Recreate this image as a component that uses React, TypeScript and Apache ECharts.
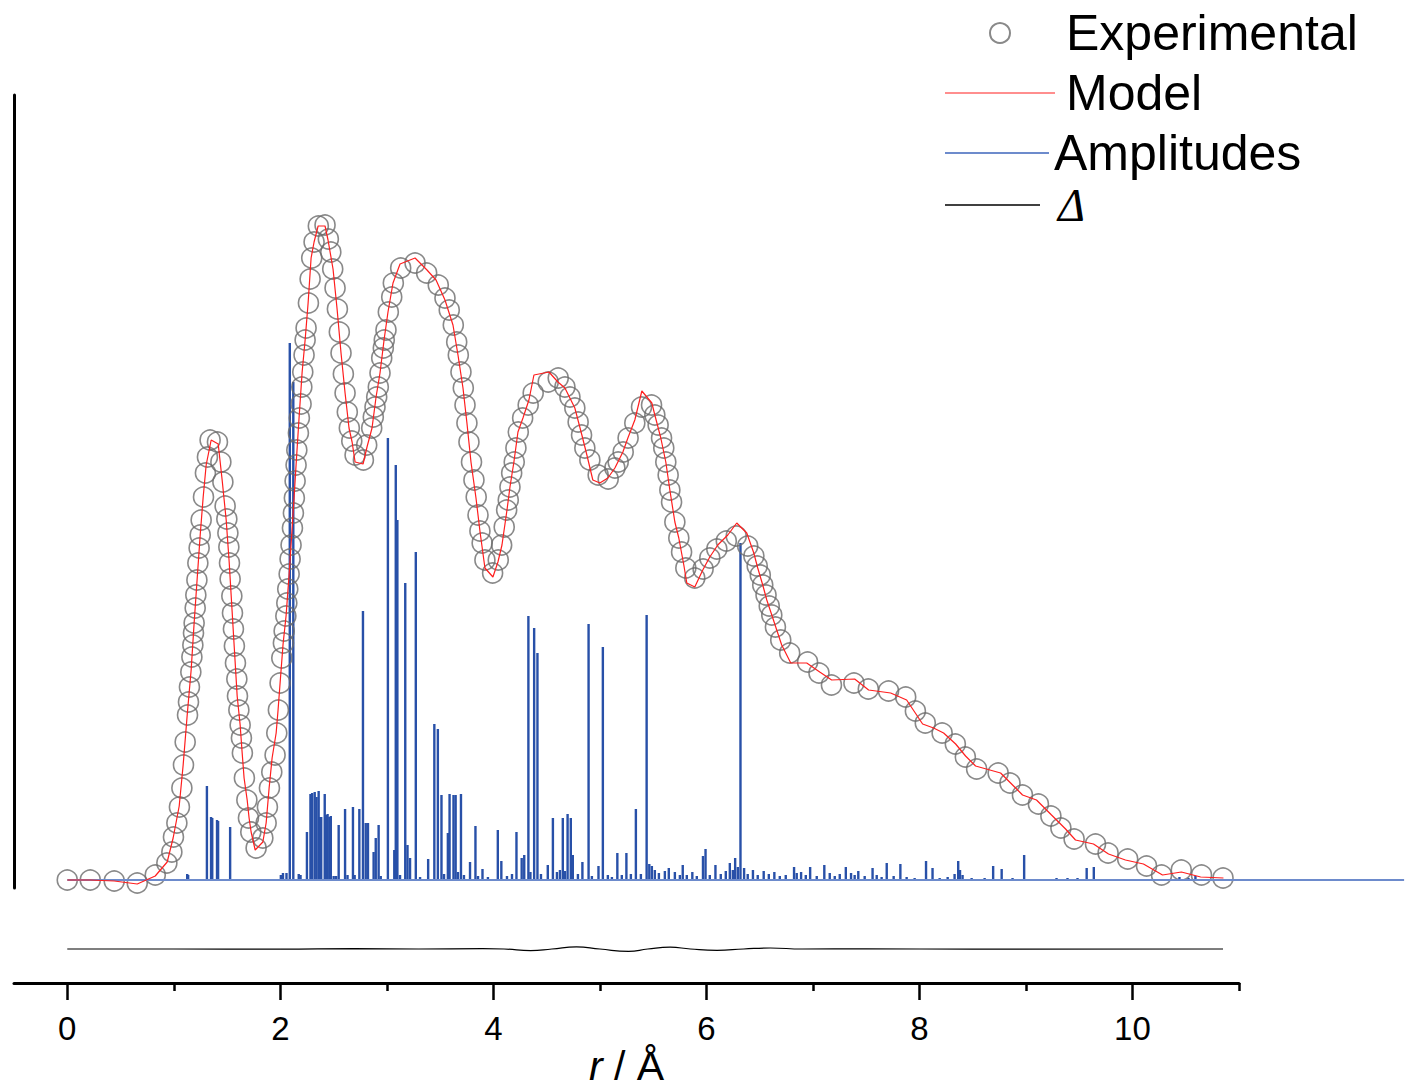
import React, { useEffect, useRef } from "react";
import * as echarts from "echarts";

// r (Å), G (a.u.)
const experimental: number[][] = [
  [0,0],[0.216,0],[0.441,-0.01],[0.657,-0.03],[0.826,0.05],[0.935,0.17],[0.982,0.28],[0.997,0.43],[1.029,0.57],[1.053,0.73],[1.076,0.92],[1.091,1.15],[1.107,1.38],[1.129,1.65],[1.138,1.78],[1.147,1.93],[1.160,2.08],[1.170,2.23],[1.179,2.35],[1.185,2.47],[1.191,2.57],[1.201,2.72],[1.207,2.85],[1.217,3.00],[1.226,3.17],[1.238,3.32],[1.248,3.45],[1.257,3.60],[1.279,3.83],[1.297,4.07],[1.316,4.23],[1.341,4.40],[1.410,4.38],[1.442,4.18],[1.461,3.98],[1.482,3.74],[1.498,3.61],[1.508,3.47],[1.517,3.33],[1.523,3.17],[1.529,3.01],[1.545,2.84],[1.551,2.67],[1.560,2.51],[1.569,2.34],[1.579,2.17],[1.592,2.01],[1.598,1.84],[1.611,1.70],[1.623,1.55],[1.635,1.42],[1.644,1.27],[1.663,1.02],[1.686,0.80],[1.701,0.62],[1.723,0.48],[1.773,0.32],[1.836,0.42],[1.867,0.57],[1.879,0.73],[1.898,0.92],[1.920,1.08],[1.951,1.25],[1.967,1.47],[1.982,1.70],[1.998,1.97],[2.014,2.22],[2.029,2.37],[2.036,2.49],[2.052,2.64],[2.061,2.77],[2.070,2.91],[2.083,3.06],[2.092,3.21],[2.101,3.35],[2.114,3.52],[2.123,3.67],[2.132,3.82],[2.139,3.99],[2.148,4.15],[2.155,4.30],[2.170,4.47],[2.179,4.62],[2.195,4.76],[2.202,4.93],[2.211,5.08],[2.223,5.25],[2.233,5.40],[2.242,5.52],[2.264,5.77],[2.280,6.01],[2.295,6.22],[2.317,6.38],[2.357,6.54],[2.420,6.55],[2.451,6.41],[2.474,6.28],[2.492,6.11],[2.514,5.92],[2.536,5.71],[2.554,5.48],[2.570,5.27],[2.592,5.06],[2.608,4.87],[2.629,4.68],[2.648,4.52],[2.671,4.39],[2.702,4.25],[2.780,4.20],[2.811,4.35],[2.858,4.52],[2.873,4.63],[2.889,4.73],[2.905,4.83],[2.920,4.93],[2.936,5.07],[2.952,5.22],[2.967,5.32],[2.976,5.40],[2.992,5.50],[3.014,5.68],[3.046,5.83],[3.061,5.97],[3.130,6.12],[3.265,6.17],[3.374,6.07],[3.483,5.95],[3.546,5.82],[3.586,5.70],[3.624,5.55],[3.656,5.38],[3.671,5.25],[3.696,5.08],[3.718,4.92],[3.734,4.75],[3.752,4.57],[3.771,4.38],[3.795,4.18],[3.818,4.00],[3.839,3.83],[3.856,3.65],[3.874,3.49],[3.895,3.37],[3.921,3.20],[3.993,3.07],[4.046,3.20],[4.078,3.35],[4.102,3.53],[4.125,3.70],[4.140,3.80],[4.156,3.93],[4.172,4.07],[4.196,4.18],[4.212,4.32],[4.234,4.48],[4.275,4.62],[4.327,4.75],[4.374,4.87],[4.515,4.98],[4.609,5.02],[4.672,4.93],[4.719,4.83],[4.765,4.72],[4.796,4.58],[4.828,4.45],[4.859,4.32],[4.906,4.20],[4.984,4.05],[5.078,4.01],[5.141,4.12],[5.172,4.18],[5.219,4.28],[5.265,4.42],[5.328,4.57],[5.391,4.73],[5.485,4.75],[5.516,4.65],[5.547,4.55],[5.579,4.42],[5.600,4.32],[5.619,4.18],[5.641,4.05],[5.657,3.90],[5.673,3.78],[5.704,3.58],[5.741,3.42],[5.767,3.28],[5.807,3.12],[5.891,3.02],[5.969,3.11],[6.032,3.22],[6.098,3.31],[6.187,3.39],[6.280,3.44],[6.388,3.34],[6.446,3.24],[6.477,3.14],[6.506,3.05],[6.529,2.95],[6.560,2.85],[6.590,2.74],[6.614,2.65],[6.648,2.53],[6.698,2.40],[6.782,2.27],[6.950,2.18],[7.057,2.07],[7.174,1.95],[7.385,1.97],[7.520,1.91],[7.710,1.89],[7.871,1.83],[7.962,1.69],[8.055,1.57],[8.213,1.47],[8.337,1.36],[8.431,1.23],[8.537,1.11],[8.739,1.07],[8.850,0.97],[8.967,0.85],[9.117,0.76],[9.234,0.64],[9.328,0.52],[9.452,0.41],[9.653,0.36],[9.771,0.27],[9.955,0.21],[10.132,0.14],[10.273,0.05],[10.458,0.10],[10.648,0.05],[10.850,0.02]
];

const model: number[][] = [
  [0,0],[0.216,0],[0.441,-0.01],[0.657,-0.04],[0.826,0.04],[0.938,0.18],[0.994,0.42],[1.051,0.74],[1.088,1.15],[1.126,1.65],[1.163,2.10],[1.191,2.57],[1.220,3.02],[1.248,3.45],[1.276,3.83],[1.304,4.15],[1.351,4.40],[1.417,4.36],[1.454,4.00],[1.492,3.60],[1.520,3.18],[1.548,2.68],[1.567,2.34],[1.595,1.84],[1.623,1.55],[1.642,1.27],[1.660,1.02],[1.689,0.80],[1.707,0.62],[1.726,0.48],[1.764,0.30],[1.836,0.38],[1.867,0.57],[1.895,0.92],[1.923,1.22],[1.961,1.47],[1.979,1.70],[1.998,1.97],[2.026,2.36],[2.054,2.64],[2.083,3.06],[2.111,3.52],[2.129,3.82],[2.148,4.15],[2.176,4.62],[2.205,5.08],[2.233,5.40],[2.261,5.77],[2.289,6.22],[2.317,6.38],[2.355,6.54],[2.420,6.54],[2.448,6.40],[2.495,6.11],[2.533,5.71],[2.570,5.27],[2.608,4.87],[2.645,4.52],[2.674,4.38],[2.702,4.18],[2.777,4.16],[2.814,4.33],[2.861,4.52],[2.899,4.83],[2.936,5.07],[2.974,5.40],[3.011,5.68],[3.058,5.97],[3.124,6.16],[3.265,6.22],[3.377,6.10],[3.462,6.00],[3.546,5.80],[3.621,5.55],[3.668,5.25],[3.715,4.92],[3.752,4.57],[3.790,4.18],[3.837,3.82],[3.874,3.49],[3.921,3.12],[3.996,3.03],[4.043,3.18],[4.081,3.35],[4.128,3.70],[4.156,3.93],[4.193,4.18],[4.231,4.48],[4.278,4.62],[4.334,4.80],[4.381,5.05],[4.522,5.08],[4.606,4.98],[4.672,4.92],[4.765,4.72],[4.831,4.45],[4.878,4.25],[4.934,4.00],[5.000,3.97],[5.075,4.02],[5.141,4.12],[5.216,4.28],[5.263,4.42],[5.328,4.60],[5.394,4.89],[5.488,4.77],[5.516,4.65],[5.572,4.42],[5.619,4.18],[5.657,3.90],[5.704,3.58],[5.741,3.42],[5.788,3.15],[5.816,2.97],[5.891,2.93],[5.966,3.10],[6.032,3.23],[6.107,3.35],[6.201,3.45],[6.285,3.57],[6.379,3.47],[6.445,3.27],[6.482,3.12],[6.529,2.95],[6.567,2.80],[6.614,2.65],[6.651,2.53],[6.707,2.35],[6.792,2.17],[6.942,2.17],[7.064,2.08],[7.176,2.00],[7.392,2.01],[7.523,1.90],[7.730,1.87],[7.880,1.80],[8.030,1.56],[8.133,1.52],[8.227,1.47],[8.340,1.36],[8.433,1.24],[8.527,1.14],[8.762,1.07],[8.856,0.97],[8.968,0.85],[9.099,0.80],[9.240,0.65],[9.372,0.51],[9.465,0.40],[9.634,0.36],[9.775,0.26],[9.934,0.20],[10.103,0.16],[10.282,0.05],[10.459,0.08],[10.640,0.03],[10.854,0.02]
];

const amplitudes: number[][] = [
  [1.126,0.06],[1.135,0.05],[1.311,0.94],[1.350,0.63],[1.361,0.62],[1.406,0.60],[1.416,0.59],[1.529,0.53],[1.820,0.01],[2.005,0.05],[2.025,0.07],[2.058,0.07],[2.089,5.37],[2.122,4.98],[2.173,0.06],[2.190,0.05],[2.250,0.48],[2.283,0.86],[2.299,0.87],[2.323,0.88],[2.340,0.83],[2.360,0.89],[2.373,0.63],[2.384,0.63],[2.417,0.86],[2.431,0.65],[2.444,0.66],[2.461,0.63],[2.474,0.64],[2.501,0.04],[2.524,0.04],[2.548,0.55],[2.608,0.71],[2.631,0.05],[2.682,0.73],[2.698,0.05],[2.742,0.71],[2.776,2.69],[2.802,0.57],[2.823,0.57],[2.876,0.28],[2.896,0.42],[2.923,0.55],[2.943,0.04],[3.010,4.42],[3.070,0.30],[3.084,4.15],[3.099,3.60],[3.124,0.05],[3.173,2.97],[3.194,0.35],[3.218,0.22],[3.272,3.28],[3.312,0.03],[3.388,0.21],[3.446,1.56],[3.479,1.51],[3.513,0.85],[3.537,0.06],[3.573,0.47],[3.589,0.86],[3.626,0.85],[3.646,0.85],[3.668,0.08],[3.696,0.86],[3.724,0.05],[3.781,0.18],[3.832,0.54],[3.856,0.04],[3.898,0.11],[3.949,0.03],[4.042,0.50],[4.075,0.19],[4.128,0.04],[4.175,0.06],[4.217,0.48],[4.266,0.22],[4.290,0.25],[4.329,2.64],[4.348,0.08],[4.383,2.52],[4.414,2.27],[4.447,0.06],[4.511,0.15],[4.559,0.62],[4.597,0.08],[4.625,0.10],[4.652,0.62],[4.672,0.09],[4.697,0.66],[4.727,0.62],[4.746,0.25],[4.794,0.06],[4.836,0.18],[4.894,2.56],[4.925,0.04],[4.987,0.14],[5.028,2.33],[5.075,0.05],[5.113,0.03],[5.164,0.27],[5.206,0.05],[5.249,0.27],[5.291,0.06],[5.338,0.71],[5.385,0.06],[5.439,2.65],[5.464,0.16],[5.488,0.14],[5.516,0.10],[5.554,0.07],[5.610,0.09],[5.647,0.12],[5.704,0.08],[5.751,0.05],[5.778,0.15],[5.816,0.05],[5.868,0.08],[5.910,0.04],[5.968,0.24],[5.992,0.31],[6.032,0.05],[6.085,0.15],[6.135,0.06],[6.182,0.09],[6.220,0.17],[6.248,0.10],[6.270,0.22],[6.295,0.13],[6.320,3.37],[6.354,0.12],[6.388,0.06],[6.437,0.10],[6.482,0.05],[6.538,0.09],[6.586,0.06],[6.638,0.08],[6.689,0.04],[6.745,0.05],[6.823,0.13],[6.848,0.07],[6.889,0.08],[6.933,0.05],[6.974,0.13],[7.036,0.04],[7.107,0.15],[7.158,0.07],[7.205,0.04],[7.252,0.06],[7.309,0.13],[7.358,0.07],[7.392,0.05],[7.426,0.09],[7.486,0.04],[7.560,0.12],[7.599,0.05],[7.645,0.03],[7.693,0.17],[7.758,0.04],[7.821,0.16],[7.880,0.03],[7.955,0.02],[8.062,0.19],[8.123,0.12],[8.190,0.02],[8.265,0.03],[8.330,0.06],[8.364,0.19],[8.381,0.10],[8.405,0.05],[8.490,0.02],[8.612,0.02],[8.692,0.14],[8.772,0.11],[8.874,0.02],[8.983,0.25],[9.184,0.01],[9.287,0.02],[9.390,0.02],[9.484,0.02],[9.570,0.12],[9.637,0.13],[9.784,0.01],[9.925,0.01],[10.160,0.01],[10.441,0.03],[10.526,0.02],[10.591,0.04]
];

const amplitudeBaseline: number[][] = [[0, 0], [12.55, 0]];

const delta: number[][] = [
  [0,0],[1.0,0],[2.0,-0.002],[2.7,0.004],[3.3,0],[3.9,0.003],[4.1,0],[4.35,-0.017],[4.55,0],[4.78,0.022],[5.0,0],[5.27,-0.024],[5.45,0],[5.66,0.018],[5.85,0],[6.1,-0.013],[6.35,0],[6.6,0.01],[6.9,0],[7.5,0.002],[8.5,-0.002],[10.85,0]
];

const majorTicks = [0, 2, 4, 6, 8, 10];
const minorTicks = [1, 3, 5, 7, 9, 11];
const legendNames = ["Experimental", "Model", "Amplitudes", "Δ"];

const FONT = "Liberation Sans, Arial, sans-serif";

export default function App() {
  const ref = useRef<HTMLDivElement>(null);
  useEffect(() => {
    if (!ref.current) return;
    const chart = echarts.init(ref.current, null, { renderer: "svg" });
    const xMin = -0.5;
    const xMaxAxis = 11;
    const gridLeft = 14;
    const pxPerUnit = 1225 / (xMaxAxis - xMin);
    const mainWidth = 1391;
    const option: any = {
      animation: false,
      backgroundColor: "#ffffff",
      grid: [
        { left: gridLeft, top: 95, width: mainWidth, height: 793, outerBoundsMode: "none", containLabel: false },
        { left: gridLeft, top: 915, width: 1225, height: 68, outerBoundsMode: "none", containLabel: false },
      ],
      xAxis: [
        {
          gridIndex: 0, type: "value", min: xMin, max: xMin + mainWidth / pxPerUnit, show: false,
        },
        {
          gridIndex: 1, type: "value", min: xMin, max: xMaxAxis, position: "bottom",
          axisLine: { show: true, onZero: false, lineStyle: { color: "#000", width: 3 } },
          axisTick: { show: true, length: 17, lineStyle: { color: "#000", width: 2.5 }, customValues: majorTicks },
          axisLabel: { show: true, customValues: majorTicks, fontSize: 33, color: "#000", fontFamily: FONT, margin: 29 },
          splitLine: { show: false },
          name: "{i|r} / Å",
          nameLocation: "middle",
          nameGap: 57,
          nameTextStyle: {
            fontSize: 41, color: "#000", fontFamily: FONT,
            rich: { i: { fontSize: 41, fontStyle: "italic", fontFamily: FONT, color: "#000" } },
          },
        },
        {
          gridIndex: 1, type: "value", min: xMin, max: xMaxAxis, position: "bottom",
          axisLine: { show: false, onZero: false },
          axisTick: { show: true, length: 8, lineStyle: { color: "#000", width: 2.5 }, customValues: minorTicks },
          axisLabel: { show: false },
          splitLine: { show: false },
        },
      ],
      yAxis: [
        {
          gridIndex: 0, type: "value", min: -0.08, max: 7.85,
          axisLine: { show: true, onZero: false, lineStyle: { color: "#000", width: 3 } },
          axisTick: { show: false }, axisLabel: { show: false }, splitLine: { show: false },
        },
        {
          gridIndex: 1, type: "value", min: -0.34, max: 0.34, show: false,
          axisLine: { onZero: false },
        },
      ],
      legend: [
        {
          left: 984, top: 3, selectedMode: false, data: [{ name: legendNames[0], icon: "circle" }],
          itemWidth: 20, itemHeight: 20,
          textStyle: { fontSize: 50, color: "#000", fontFamily: FONT, padding: [0, 0, 0, 51] },
        },
        {
          left: 940, top: 63, selectedMode: false,
          data: [{ name: legendNames[1], icon: "rect", itemStyle: { color: "#ff1e1e" } }],
          itemWidth: 110, itemHeight: 1.2,
          textStyle: { fontSize: 50, color: "#000", fontFamily: FONT, padding: [0, 0, 0, 6] },
        },
        {
          left: 940, top: 123, selectedMode: false,
          data: [{ name: legendNames[2], icon: "rect", itemStyle: { color: "#6d8bcc" } }],
          itemWidth: 104, itemHeight: 2,
          textStyle: { fontSize: 50, color: "#000", fontFamily: FONT },
        },
        {
          left: 940, top: 177, selectedMode: false,
          data: [{ name: legendNames[3], icon: "rect", itemStyle: { color: "#000" } }],
          itemWidth: 95, itemHeight: 1.5,
          textStyle: { fontSize: 46, color: "#000", fontFamily: "Liberation Serif, serif", fontStyle: "italic", padding: [0, 0, 0, 13] },
        },
      ],
      series: [
        {
          name: legendNames[2], type: "bar", xAxisIndex: 0, yAxisIndex: 0,
          data: amplitudes, barWidth: 2.4, itemStyle: { color: "#2850a8" }, clip: false,
          emphasis: { disabled: true },
        },
        {
          name: legendNames[2] + " baseline", type: "line", xAxisIndex: 0, yAxisIndex: 0,
          data: amplitudeBaseline, symbol: "none", lineStyle: { color: "#6d8bcc", width: 2 }, clip: false,
        },
        {
          name: legendNames[0], type: "scatter", xAxisIndex: 0, yAxisIndex: 0,
          data: experimental, symbol: "circle", symbolSize: 20, clip: false,
          itemStyle: { color: "rgba(255,255,255,0)", borderColor: "#6b6b6b", borderWidth: 1.6 },
        },
        {
          name: legendNames[1], type: "line", xAxisIndex: 0, yAxisIndex: 0,
          data: model, symbol: "none", lineStyle: { color: "#ff1e1e", width: 1.2 }, clip: false,
        },
        {
          name: legendNames[3], type: "line", xAxisIndex: 1, yAxisIndex: 1,
          data: delta, symbol: "none", smooth: true, lineStyle: { color: "#000", width: 1.2 }, clip: false,
        },
      ],
    };
    chart.setOption(option);
    return () => chart.dispose();
  }, []);
  return <div ref={ref} style={{ position: "absolute", left: 0, top: 0, width: 1408, height: 1088 }} />;
}
